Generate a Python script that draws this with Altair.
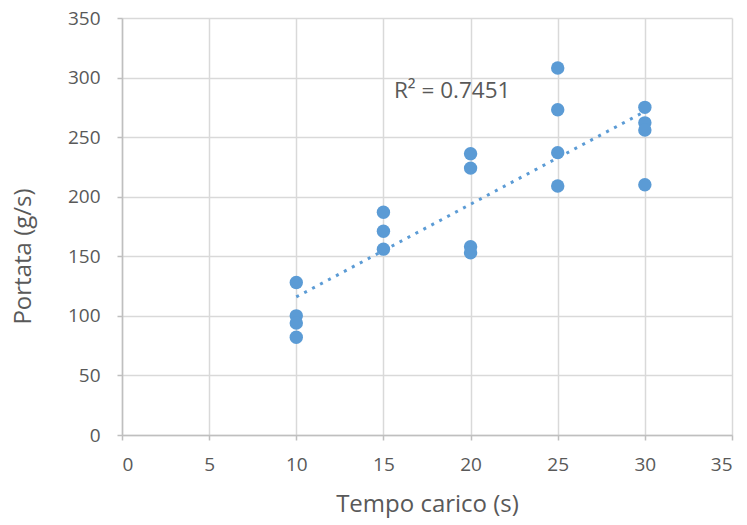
import altair as alt
import pandas as pd

# Loading time (s) and measured flow rate (g/s)
tempo = [10, 10, 10, 10,
         15, 15, 15,
         20, 20, 20, 20,
         25, 25, 25, 25,
         30, 30, 30, 30]
portata = [128, 100, 94, 82,
           187, 171, 156,
           236, 224, 158, 153,
           308, 273, 237, 209,
           275, 262, 256, 210]

r2_text = ["R² = 0.7451"]
r2_pos_x = [15.6]
r2_pos_y = [289]

df = pd.DataFrame({"tempo": tempo, "portata": portata})
lab = pd.DataFrame({"x": r2_pos_x, "y": r2_pos_y, "t": r2_text})

FONT = "Open Sans"
TXT = "#595959"
BLUE = "#5B9BD5"

x_enc = alt.X(
    "tempo:Q",
    scale=alt.Scale(domain=[0, 35], nice=False),
    axis=alt.Axis(
        values=[0, 5, 10, 15, 20, 25, 30, 35],
        title="Tempo carico (s)",
        titleBaseline="middle",
        titleY=69,
        labelPadding=15,
    ),
)
y_enc = alt.Y(
    "portata:Q",
    scale=alt.Scale(domain=[0, 350], nice=False),
    axis=alt.Axis(
        values=[0, 50, 100, 150, 200, 250, 300, 350],
        title="Portata (g/s)",
        titleBaseline="middle",
        titleX=-99,
        titleY=238,
        labelPadding=17,
    ),
)

points = alt.Chart(df).mark_circle(size=180, color=BLUE, opacity=1).encode(
    x=x_enc, y=y_enc
)

trend = (
    alt.Chart(df)
    .transform_regression("tempo", "portata")
    .mark_line(color=BLUE, strokeWidth=3, strokeDash=[3, 6])
    .encode(x="tempo:Q", y="portata:Q")
)

r2 = alt.Chart(lab).mark_text(
    align="left", baseline="middle", font=FONT, fontSize=22.5, color=TXT
).encode(x="x:Q", y="y:Q", text="t:N")

chart = (
    alt.layer(trend, points, r2)
    .properties(
        width=610,
        height=417,
        autosize=alt.AutoSizeParams(type="none"),
        padding={"left": 122, "top": 18, "right": 15, "bottom": 90},
        background="white",
    )
    .configure_view(stroke=None)
    .configure_axis(
        labelFont=FONT,
        titleFont=FONT,
        labelFontSize=19,
        titleFontSize=24,
        labelColor=TXT,
        titleColor=TXT,
        titleFontWeight="normal",
        gridColor="#d9d9d9",
        gridWidth=1.5,
        domainColor="#bfbfbf",
        domainWidth=1.5,
        tickColor="#bfbfbf",
        tickWidth=1.5,
        tickSize=5,
    )
)

chart.save("out.html", embed_options={"renderer": "svg", "actions": False})
